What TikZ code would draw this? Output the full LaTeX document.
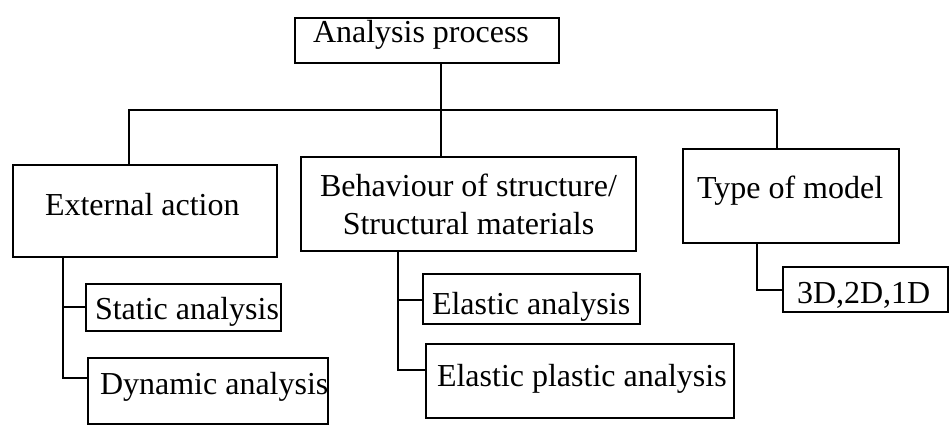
\documentclass[tikz,border=0pt]{standalone}
\usepackage{fontspec}
\setmainfont{Liberation Serif}
\newcommand{\padl}[3]{\makebox[#1pt][l]{\hspace*{#2pt}#3}}
\begin{document}
\begin{tikzpicture}[x=1pt,y=-1pt,
  box/.style={draw, line width=2pt, inner sep=0pt, anchor=north west,
    font=\fontsize{32}{38}\selectfont},
  conn/.style={line width=2pt}]
\useasboundingbox (0,0) rectangle (950,425);
\node[box, text height=25pt, text depth=20pt] (top) at (294,17) {\padl{264}{18}{Analysis process}};
\node[box, text height=50pt, text depth=42pt] (ext) at (12,164) {\padl{264}{32}{External action}};
\node[box, text height=39pt, text depth=55pt] (beh) at (300,156) {\makebox[335pt]{\begin{tabular}[t]{@{}c@{}}Behaviour of structure/\\Structural materials\end{tabular}}};
\node[box, text height=49pt, text depth=45pt] (type) at (682,148) {\padl{216}{14}{Type of model}};
\node[box, text height=35pt, text depth=12pt] (stat) at (85,283) {\padl{195}{9}{Static analysis}};
\node[box, text height=36pt, text depth=30pt] (dyn) at (87,357) {\padl{240}{12}{Dynamic analysis}};
\node[box, text height=40pt, text depth=10pt] (ela) at (422,273) {\padl{217}{9}{Elastic analysis}};
\node[box, text height=42pt, text depth=32pt] (elp) at (425,343) {\padl{308}{11}{Elastic plastic analysis}};
\node[box, text height=36pt, text depth=9pt] (mdl) at (782,266) {\padl{165}{14}{3D,2D,1D}};
\coordinate (hubL) at (129,110);
\coordinate (hubC) at (441,110);
\coordinate (hubR) at (777,110);
\draw[conn] (hubC |- top.south) -- (hubC |- beh.north);
\draw[conn] (hubL |- ext.north) -- (hubL) -- (hubR) -- (hubR |- type.north);
\coordinate (ea) at (63,307);
\coordinate (eb) at (63,378);
\draw[conn] (ea |- ext.south) -- (eb) -- (eb -| dyn.west);
\draw[conn] (ea) -- (ea -| stat.west);
\coordinate (ba) at (398,300);
\coordinate (bb) at (398,370);
\draw[conn] (ba |- beh.south) -- (bb) -- (bb -| elp.west);
\draw[conn] (ba) -- (ba -| ela.west);
\coordinate (ta) at (757,290);
\draw[conn] (ta |- type.south) -- (ta) -- (ta -| mdl.west);
\end{tikzpicture}
\end{document}
